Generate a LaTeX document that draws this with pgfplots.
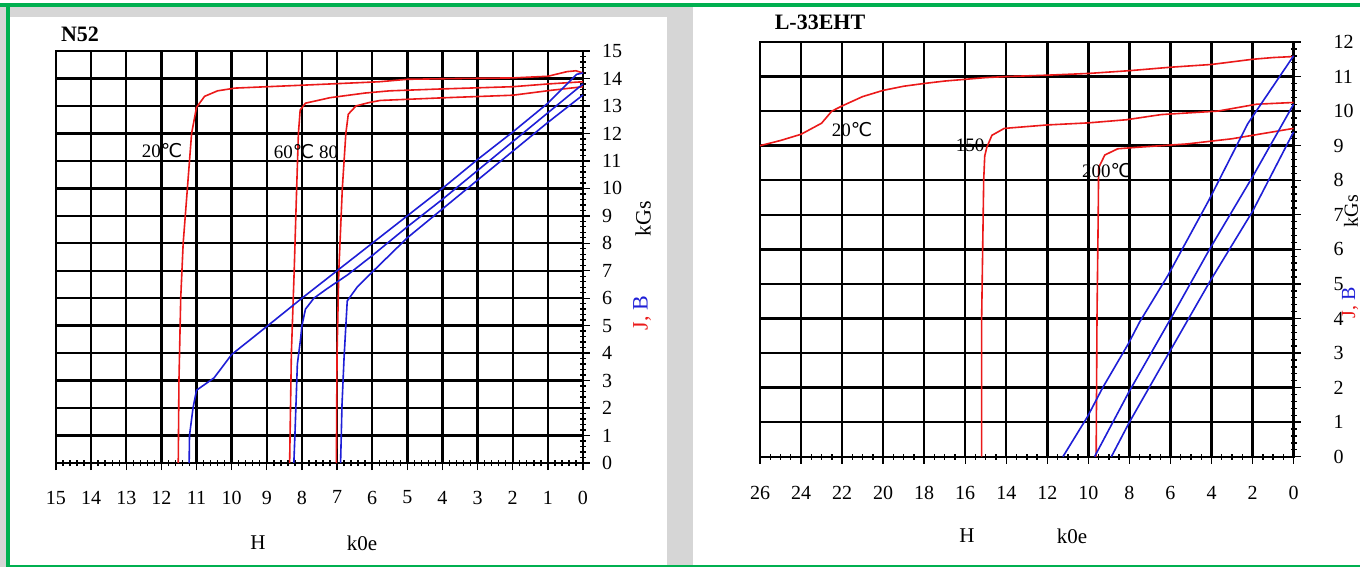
\documentclass[border=0pt]{standalone}
\usepackage{fontspec}
\setmainfont{Liberation Serif}
\newfontfamily\dv{DejaVu Sans}
\usepackage{pgfplots}
\pgfplotsset{compat=1.18}
\definecolor{bgray}{RGB}{214,214,214}
\definecolor{bgreen}{RGB}{0,176,80}
\definecolor{jred}{RGB}{235,25,25}
\definecolor{bblue}{RGB}{30,30,215}
\pgfplotsset{mystyle/.style={
  scale only axis, x dir=reverse,
  grid=major, grid style={black, line width=1.2pt},
  axis line style={black, line width=1.2pt},
  tick align=center, major tick length=7pt, minor tick length=3pt,
  every tick/.style={black, line width=0.7pt},
  xtick pos=left, ytick pos=right, yticklabel pos=right,
  ticklabel style={font=\fontsize{10}{10}\selectfont},
  /pgf/number format/assume math mode=true,
  clip=false,
}}
\begin{document}
\begin{tikzpicture}
\begin{scope}[x=0.5pt,y=-0.5pt]
\fill[white] (0,0) rectangle (1360,567);
\fill[bgray] (0,3.3) rectangle (1360,567);
\fill[white] (10,16.7) rectangle (667,565);
\fill[white] (693,7) rectangle (1360,565);
\fill[bgreen] (0,3.3) rectangle (1360,6.7);
\fill[bgreen] (6,3.3) rectangle (10,567);
\fill[bgreen] (6,564.5) rectangle (1360,567);
\end{scope}

% ---------- N52 ----------
\begin{axis}[mystyle, at={(28pt,-231.5pt)}, anchor=south west,
  width=263.5pt, height=206pt,
  xmin=0, xmax=15, ymin=0, ymax=15,
  xtick={0,1,...,15}, ytick={0,1,...,15},
  minor x tick num=4, minor y tick num=4,
  xticklabel style={yshift=-6.9pt}, yticklabel style={xshift=2.5pt}]
\addplot[jred, line width=0.8pt] coordinates {
(11.52,0) (11.5,3) (11.45,6) (11.38,8) (11.26,10) (11.14,12) (11.0,12.95) (10.77,13.35) (10.4,13.55) (9.9,13.65) (7.9,13.76) (5.8,13.88) (5,13.97) (3.5,14.0) (2,14.02) (1,14.08) (0.45,14.25) (0.2,14.28) (0,14.2)};
\addplot[jred, line width=0.8pt] coordinates {
(8.35,0) (8.3,4) (8.22,7) (8.15,10) (8.1,12) (8.05,12.85) (7.9,13.1) (7.2,13.3) (6.2,13.47) (5.5,13.55) (4,13.62) (2,13.7) (1,13.8) (0,13.88)};
\addplot[jred, line width=0.8pt] coordinates {
(7.02,0) (7.0,4) (6.95,7) (6.85,10) (6.75,12) (6.68,12.7) (6.46,13.0) (6.1,13.12) (5.77,13.2) (3.9,13.3) (2,13.39) (0.9,13.57) (0,13.7)};
\addplot[bblue, line width=0.8pt] coordinates {
(11.21,0) (11.2,1) (11.1,2) (11.0,2.65) (10.5,3.1) (10.0,3.95) (9.0,4.97) (8.0,6.0) (6.0,8.0) (5.0,9.0) (4.0,10.0) (3.0,11.05) (2.0,12.05) (1.0,13.1) (0.18,14.15) (0,14.2)};
\addplot[bblue, line width=0.8pt] coordinates {
(8.23,0) (8.2,1) (8.17,2.1) (8.13,3.6) (8.04,4.5) (8.0,5.0) (7.9,5.6) (7.66,6.0) (7.28,6.35) (6.7,6.85) (6,7.55) (5,8.6) (4,9.6) (3,10.65) (2,11.7) (1,12.75) (0,13.8)};
\addplot[bblue, line width=0.8pt] coordinates {
(6.9,0) (6.88,1) (6.86,2.1) (6.8,3.85) (6.75,5.0) (6.71,5.9) (6.43,6.4) (5.96,7.0) (5,8.2) (4,9.25) (3,10.3) (2,11.35) (1,12.4) (0,13.4)};
\end{axis}

% ---------- L-33EHT ----------
\begin{axis}[mystyle, at={(380pt,-228.35pt)}, anchor=south west,
  width=266.8pt, height=207.35pt,
  xmin=0, xmax=26, ymin=0, ymax=12,
  xtick={0,2,...,26}, ytick={0,1,...,12},
  minor x tick num=3, minor y tick num=4,
  xticklabel style={yshift=-7.9pt}, yticklabel style={xshift=13pt}]
\addplot[jred, line width=0.8pt] coordinates {
(26,9.0) (25,9.15) (24,9.33) (23,9.65) (22.5,10.0) (22,10.15) (21,10.42) (20,10.6) (19,10.72) (18,10.8) (17,10.87) (16,10.92) (15,10.97) (14,11.0) (12,11.04) (10,11.09) (8,11.17) (6,11.27) (4,11.35) (2,11.5) (1,11.55) (0,11.58)};
\addplot[jred, line width=0.8pt] coordinates {
(15.2,0) (15.2,4) (15.15,6) (15.1,8) (15.05,8.7) (14.95,8.95) (14.7,9.3) (14.1,9.5) (12,9.6) (10,9.66) (8.15,9.75) (6.45,9.9) (3.7,10.0) (1.8,10.2) (0,10.25)};
\addplot[jred, line width=0.8pt] coordinates {
(9.62,0) (9.58,4) (9.52,7) (9.5,8.36) (9.2,8.73) (8.57,8.91) (7.7,8.95) (5.2,9.05) (3,9.2) (2.2,9.28) (1,9.4) (0,9.5)};
\addplot[bblue, line width=0.8pt] coordinates {
(11.24,0) (10.05,1.15) (9.3,2.0) (8.07,3.25) (7.5,3.9) (6.12,5.25) (4.13,7.42) (2.23,9.64) (0,11.6)};
\addplot[bblue, line width=0.8pt] coordinates {
(9.7,0) (8.0,1.9) (6.03,3.95) (4.05,6.05) (2.0,8.1) (0,10.2)};
\addplot[bblue, line width=0.8pt] coordinates {
(8.88,0) (8.0,1.0) (6.03,3.05) (4.05,5.1) (2.0,7.1) (0,9.4)};
\end{axis}

\begin{scope}[x=0.5pt,y=-0.5pt]
\node[font=\bfseries\fontsize{11}{11}\selectfont] at (80,34.5) {N52};
\node[font=\bfseries\fontsize{11}{11}\selectfont] at (820,22.5) {L-33EHT};
\node[font=\fontsize{9.5}{9.5}\selectfont] at (162,151) {20{\dv ℃}};
\node[font=\fontsize{9.5}{9.5}\selectfont] at (306,152) {60{\dv ℃} 80};
\node[font=\fontsize{9.5}{9.5}\selectfont] at (852,130) {20{\dv ℃}};
\node[font=\fontsize{9.5}{9.5}\selectfont] at (970,145) {150};
\node[font=\fontsize{9.5}{9.5}\selectfont] at (1107,171) {200{\dv ℃}};
\node[font=\fontsize{10.5}{10.5}\selectfont] at (258,543) {H};
\node[font=\fontsize{10.5}{10.5}\selectfont] at (362,543) {k0e};
\node[font=\fontsize{10.5}{10.5}\selectfont] at (967,536) {H};
\node[font=\fontsize{10.5}{10.5}\selectfont] at (1072,536) {k0e};
\node[rotate=90, font=\fontsize{11}{11}\selectfont] at (643,219) {kGs};
\node[rotate=90, font=\fontsize{11}{11}\selectfont] at (642,313) {\textcolor{jred}{J,} \textcolor{bblue}{B}};
\node[rotate=90, font=\fontsize{10}{10}\selectfont] at (1351,211) {kGs};
\node[rotate=90, font=\fontsize{10}{10}\selectfont] at (1350,303) {\textcolor{jred}{J,} \textcolor{bblue}{B}};
\end{scope}
\pgfresetboundingbox
\path[use as bounding box] (0,0) rectangle (680pt,-283.5pt);
\end{tikzpicture}
\end{document}
